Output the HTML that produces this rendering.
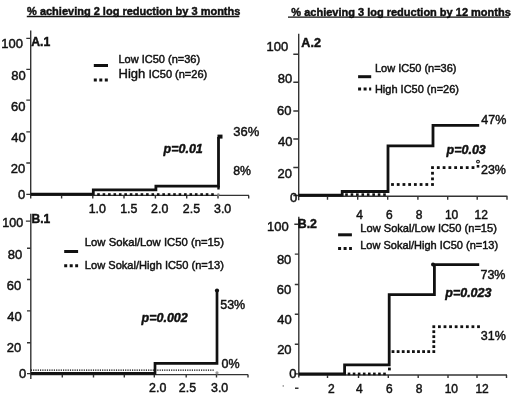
<!DOCTYPE html>
<html><head><meta charset="utf-8"><style>
html,body{margin:0;padding:0;background:#fff;}
svg{display:block;will-change:transform;filter:blur(0.3px);}
text{font-family:"Liberation Sans", sans-serif; fill:#111; stroke:#111; stroke-width:0.45px;}
</style></head><body>
<svg width="520" height="399" viewBox="0 0 520 399">
<rect width="520" height="399" fill="#fff"/>
<path d="M26.8,16.5 H239.3" stroke="#111" stroke-width="1.3" fill="none"/>
<path d="M288,17.1 H509" stroke="#111" stroke-width="1.3" fill="none"/>
<path d="M30.7,30.4 V198.5" stroke="#333" stroke-width="1.4" fill="none"/>
<path d="M26.3,38.4 H30.7 M26.3,69.4 H30.7 M26.3,100.1 H30.7 M26.3,131.9 H30.7 M26.3,163.0 H30.7 M26.3,194.4 H30.7" stroke="#333" stroke-width="1.4" fill="none"/>
<path d="M30.7,195.4 H249" stroke="#333" stroke-width="1.4" fill="none"/>
<path d="M61.6,195.4 V198.6 M92.8,195.4 V198.6 M124.0,195.4 V198.6 M155.4,195.4 V198.6 M186.7,195.4 V198.6 M218.0,195.4 V198.6 M248.7,195.4 V198.6" stroke="#333" stroke-width="1.4" fill="none"/>
<path d="M30.7,194.1 H93.3 V189.8 H155.9 V186.1 H218.5 V137" stroke="#111" stroke-width="2.8" fill="none"/>
<path d="M218.5,186 V189.5" stroke="#111" stroke-width="2.4" fill="none"/>
<rect x="217.5" y="134.6" width="5" height="4" fill="#111"/>
<rect x="97.20" y="193.20" width="2.6" height="2.6" fill="#111"/><rect x="102.63" y="193.20" width="2.6" height="2.6" fill="#111"/><rect x="108.06" y="193.20" width="2.6" height="2.6" fill="#111"/><rect x="113.49" y="193.20" width="2.6" height="2.6" fill="#111"/><rect x="118.91" y="193.20" width="2.6" height="2.6" fill="#111"/><rect x="124.34" y="193.20" width="2.6" height="2.6" fill="#111"/><rect x="129.77" y="193.20" width="2.6" height="2.6" fill="#111"/><rect x="135.20" y="193.20" width="2.6" height="2.6" fill="#111"/><rect x="140.63" y="193.20" width="2.6" height="2.6" fill="#111"/><rect x="146.06" y="193.20" width="2.6" height="2.6" fill="#111"/><rect x="151.49" y="193.20" width="2.6" height="2.6" fill="#111"/><rect x="156.91" y="193.20" width="2.6" height="2.6" fill="#111"/><rect x="162.34" y="193.20" width="2.6" height="2.6" fill="#111"/><rect x="167.77" y="193.20" width="2.6" height="2.6" fill="#111"/><rect x="173.20" y="193.20" width="2.6" height="2.6" fill="#111"/><rect x="178.63" y="193.20" width="2.6" height="2.6" fill="#111"/><rect x="184.06" y="193.20" width="2.6" height="2.6" fill="#111"/><rect x="189.49" y="193.20" width="2.6" height="2.6" fill="#111"/><rect x="194.91" y="193.20" width="2.6" height="2.6" fill="#111"/><rect x="200.34" y="193.20" width="2.6" height="2.6" fill="#111"/><rect x="205.77" y="193.20" width="2.6" height="2.6" fill="#111"/><rect x="211.20" y="193.20" width="2.6" height="2.6" fill="#111"/>
<circle cx="218.3" cy="194.6" r="1.3" fill="#888"/>
<path d="M93.8,65.5 H108" stroke="#111" stroke-width="3" fill="none"/>
<path d="M93.8,80 H108" stroke="#111" stroke-width="3" fill="none" stroke-dasharray="3 2.5"/>
<path d="M30.8,213.8 V379" stroke="#333" stroke-width="1.4" fill="none"/>
<path d="M25.9,221.1 H30.8 M27,248.3 H30.8 M27,279.5 H30.8 M27,310.9 H30.8 M27,342.8 H30.8 M27,373.6 H30.8" stroke="#333" stroke-width="1.4" fill="none"/>
<path d="M30.8,374.6 H248" stroke="#333" stroke-width="1.4" fill="none"/>
<path d="M62.3,374.6 V377.6 M93.5,374.6 V377.6 M124.3,374.6 V377.6 M154.3,374.6 V377.6 M186.2,374.6 V377.6 M216.5,374.6 V377.6 M248.0,374.6 V377.6" stroke="#333" stroke-width="1.4" fill="none"/>
<path d="M30.8,370.2 H214" stroke="#000" stroke-width="1.2" fill="none" stroke-dasharray="1.2 1.1"/>
<path d="M30.8,373.4 H155 V363.3 H217 V291" stroke="#111" stroke-width="2.7" fill="none"/>
<circle cx="217" cy="290.5" r="2.1" fill="#111"/>
<circle cx="217" cy="372.8" r="1.6" fill="#999"/>
<path d="M64.2,251.5 H78.1" stroke="#111" stroke-width="3" fill="none"/>
<path d="M64.2,265.8 H78.1" stroke="#111" stroke-width="3" fill="none" stroke-dasharray="3 2.5"/>
<path d="M298.7,33.8 V200.2" stroke="#333" stroke-width="1.4" fill="none"/>
<path d="M293.3,54.3 H298.5 M293.3,82.3 H298.5 M293.3,111.0 H298.5 M293.3,139.0 H298.5 M293.3,167.5 H298.5 M293.3,195.5 H298.5" stroke="#333" stroke-width="1.4" fill="none"/>
<path d="M298.5,196.2 H507.4" stroke="#333" stroke-width="1.4" fill="none"/>
<path d="M327.5,196.2 V199.7 M357.7,196.2 V199.7 M387.7,196.2 V199.7 M417.9,196.2 V199.7 M447.7,196.2 V199.7 M477.2,196.2 V199.7 M507.0,196.2 V199.7" stroke="#333" stroke-width="1.4" fill="none"/>
<path d="M298.5,195.2 H342.2 V191.5 H388 V145.8 H433 V125.3 H479.2" stroke="#111" stroke-width="2.8" fill="none"/>
<rect x="345.20" y="193.30" width="2.6" height="2.6" fill="#111"/><rect x="350.63" y="193.30" width="2.6" height="2.6" fill="#111"/><rect x="356.06" y="193.30" width="2.6" height="2.6" fill="#111"/><rect x="361.49" y="193.30" width="2.6" height="2.6" fill="#111"/><rect x="366.91" y="193.30" width="2.6" height="2.6" fill="#111"/><rect x="372.34" y="193.30" width="2.6" height="2.6" fill="#111"/><rect x="377.77" y="193.30" width="2.6" height="2.6" fill="#111"/><rect x="383.20" y="193.30" width="2.6" height="2.6" fill="#111"/>
<rect x="391.10" y="183.10" width="2.8" height="2.8" fill="#111"/><rect x="396.81" y="183.10" width="2.8" height="2.8" fill="#111"/><rect x="402.53" y="183.10" width="2.8" height="2.8" fill="#111"/><rect x="408.24" y="183.10" width="2.8" height="2.8" fill="#111"/><rect x="413.96" y="183.10" width="2.8" height="2.8" fill="#111"/><rect x="419.67" y="183.10" width="2.8" height="2.8" fill="#111"/><rect x="425.39" y="183.10" width="2.8" height="2.8" fill="#111"/><rect x="431.10" y="183.10" width="2.8" height="2.8" fill="#111"/><rect x="431.10" y="177.47" width="2.8" height="2.8" fill="#111"/><rect x="431.10" y="171.83" width="2.8" height="2.8" fill="#111"/><rect x="431.10" y="166.20" width="2.8" height="2.8" fill="#111"/><rect x="436.89" y="166.20" width="2.8" height="2.8" fill="#111"/><rect x="442.67" y="166.20" width="2.8" height="2.8" fill="#111"/><rect x="448.46" y="166.20" width="2.8" height="2.8" fill="#111"/><rect x="454.24" y="166.20" width="2.8" height="2.8" fill="#111"/><rect x="460.03" y="166.20" width="2.8" height="2.8" fill="#111"/><rect x="465.81" y="166.20" width="2.8" height="2.8" fill="#111"/><rect x="471.60" y="166.20" width="2.8" height="2.8" fill="#111"/>
<circle cx="478" cy="161.6" r="1.4" fill="none" stroke="#111" stroke-width="1.1"/>
<rect x="476.7" y="165" width="2.6" height="2.6" fill="#111"/>
<path d="M358.1,76.7 H371.2" stroke="#111" stroke-width="3" fill="none"/>
<path d="M358.1,89 H371.2" stroke="#111" stroke-width="3" fill="none" stroke-dasharray="3 2.5"/>
<path d="M298.8,216.7 V377.4" stroke="#333" stroke-width="1.4" fill="none"/>
<path d="M294.3,224.2 H298.8 M294.8,254.1 H298.8 M294.8,284.5 H298.8 M294.8,314.3 H298.8 M294.8,344.2 H298.8 M294.8,373.9 H298.8" stroke="#333" stroke-width="1.4" fill="none"/>
<path d="M298.8,375 H507" stroke="#333" stroke-width="1.4" fill="none"/>
<path d="M327.5,375 V378 M358.5,375 V378 M388.3,375 V378 M418.2,375 V378 M448.0,375 V378 M477.0,375 V378 M506.5,375 V378" stroke="#333" stroke-width="1.4" fill="none"/>
<path d="M298.8,373.9 H344.6 V364.8 H389.2 V294.6 H434.4 V264.6 H479.2" stroke="#111" stroke-width="2.8" fill="none"/>
<circle cx="433" cy="264.6" r="2" fill="#111"/>
<rect x="347.70" y="372.60" width="2.6" height="2.6" fill="#111"/><rect x="352.77" y="372.60" width="2.6" height="2.6" fill="#111"/><rect x="357.84" y="372.60" width="2.6" height="2.6" fill="#111"/><rect x="362.91" y="372.60" width="2.6" height="2.6" fill="#111"/><rect x="367.99" y="372.60" width="2.6" height="2.6" fill="#111"/><rect x="373.06" y="372.60" width="2.6" height="2.6" fill="#111"/><rect x="378.13" y="372.60" width="2.6" height="2.6" fill="#111"/><rect x="383.20" y="372.60" width="2.6" height="2.6" fill="#111"/>
<rect x="391.60" y="350.20" width="2.8" height="2.8" fill="#111"/><rect x="396.70" y="350.20" width="2.8" height="2.8" fill="#111"/><rect x="401.80" y="350.20" width="2.8" height="2.8" fill="#111"/><rect x="406.90" y="350.20" width="2.8" height="2.8" fill="#111"/><rect x="412.00" y="350.20" width="2.8" height="2.8" fill="#111"/><rect x="417.10" y="350.20" width="2.8" height="2.8" fill="#111"/><rect x="422.20" y="350.20" width="2.8" height="2.8" fill="#111"/><rect x="427.30" y="350.20" width="2.8" height="2.8" fill="#111"/><rect x="432.40" y="350.20" width="2.8" height="2.8" fill="#111"/><rect x="432.40" y="345.22" width="2.8" height="2.8" fill="#111"/><rect x="432.40" y="340.24" width="2.8" height="2.8" fill="#111"/><rect x="432.40" y="335.26" width="2.8" height="2.8" fill="#111"/><rect x="432.40" y="330.28" width="2.8" height="2.8" fill="#111"/><rect x="432.40" y="325.30" width="2.8" height="2.8" fill="#111"/><rect x="437.99" y="325.30" width="2.8" height="2.8" fill="#111"/><rect x="443.58" y="325.30" width="2.8" height="2.8" fill="#111"/><rect x="449.16" y="325.30" width="2.8" height="2.8" fill="#111"/><rect x="454.75" y="325.30" width="2.8" height="2.8" fill="#111"/><rect x="460.34" y="325.30" width="2.8" height="2.8" fill="#111"/><rect x="465.93" y="325.30" width="2.8" height="2.8" fill="#111"/><rect x="471.51" y="325.30" width="2.8" height="2.8" fill="#111"/><rect x="477.10" y="325.30" width="2.8" height="2.8" fill="#111"/>
<rect x="388" y="367.6" width="2.8" height="2.8" fill="#111"/>
<path d="M338.1,234.8 H351.9" stroke="#111" stroke-width="3" fill="none"/>
<path d="M338.1,248.5 H351.9" stroke="#111" stroke-width="3" fill="none" stroke-dasharray="3 2.5"/>
<rect x="282.6" y="385.3" width="1.3" height="1.3" fill="#777"/>
<path d="M295,388.2 H298.5" stroke="#111" stroke-width="1.3" fill="none"/>
<text x="27.05" y="14.50" font-size="11" font-weight="bold">% achieving 2 log reduction by 3 months</text>
<text x="291.35" y="15.60" font-size="11" font-weight="bold">% achieving 3 log reduction by 12 months</text>
<text x="31.25" y="45.90" font-size="12.2" font-weight="bold">A.1</text>
<text x="1.25" y="47.90" font-size="13">100</text>
<text x="11.30" y="79.60" font-size="13">80</text>
<text x="11.05" y="110.90" font-size="13">60</text>
<text x="11.25" y="142.30" font-size="13">40</text>
<text x="10.75" y="173.20" font-size="13">20</text>
<text x="18.00" y="198.60" font-size="13">0</text>
<text x="88.65" y="212.60" font-size="12.4">1.0</text>
<text x="120.15" y="212.60" font-size="12.4">1.5</text>
<text x="151.05" y="212.60" font-size="12.4">2.0</text>
<text x="182.85" y="212.60" font-size="12.4">2.5</text>
<text x="214.00" y="212.60" font-size="12.4">3.0</text>
<text x="118.50" y="62.60" font-size="11">Low IC50 (n=36)</text>
<text x="118.50" y="77.70" font-size="13">High</text>
<text x="148.80" y="77.70" font-size="11">IC50 (n=26)</text>
<text x="233.30" y="136.40" font-size="13">36%</text>
<text x="233.20" y="174.80" font-size="12.3">8%</text>
<text x="163.55" y="152.90" font-size="12.5" font-weight="bold" font-style="italic">p=0.01</text>
<text x="31.55" y="222.80" font-size="12" font-weight="bold">B.1</text>
<text x="2.35" y="227.00" font-size="12.5">100</text>
<text x="7.80" y="259.20" font-size="13">80</text>
<text x="6.75" y="289.50" font-size="13">60</text>
<text x="7.25" y="321.40" font-size="13">40</text>
<text x="6.75" y="352.00" font-size="13">20</text>
<text x="19.00" y="378.00" font-size="13">0</text>
<text x="149.05" y="391.50" font-size="12.4">2.0</text>
<text x="178.85" y="391.50" font-size="12.4">2.5</text>
<text x="211.00" y="391.50" font-size="12.4">3.0</text>
<text x="84.80" y="245.60" font-size="11.3">Low Sokal/Low IC50 (n=15)</text>
<text x="84.80" y="268.80" font-size="11.1">Low Sokal/High IC50 (n=13)</text>
<text x="220.20" y="308.70" font-size="12.5">53%</text>
<text x="221.50" y="368.20" font-size="12.5">0%</text>
<text x="141.55" y="321.70" font-size="12.5" font-weight="bold" font-style="italic">p=0.002</text>
<text x="301.35" y="47.40" font-size="12.6" font-weight="bold">A.2</text>
<text x="266.55" y="50.90" font-size="13">100</text>
<text x="277.80" y="82.90" font-size="13">80</text>
<text x="277.05" y="114.80" font-size="13">60</text>
<text x="277.95" y="146.40" font-size="13">40</text>
<text x="277.45" y="178.00" font-size="13">20</text>
<text x="290.10" y="202.20" font-size="13">0</text>
<text x="356.35" y="218.80" font-size="12">4</text>
<text x="386.10" y="218.80" font-size="12">6</text>
<text x="415.80" y="218.80" font-size="12">8</text>
<text x="444.90" y="218.80" font-size="12">10</text>
<text x="474.55" y="218.80" font-size="12">12</text>
<text x="374.90" y="72.30" font-size="11">Low IC50 (n=36)</text>
<text x="374.90" y="92.80" font-size="11">High IC50 (n=26)</text>
<text x="481.35" y="124.20" font-size="12.5">47%</text>
<text x="480.95" y="174.20" font-size="12.5">23%</text>
<text x="446.55" y="154.00" font-size="12.5" font-weight="bold" font-style="italic">p=0.03</text>
<text x="297.75" y="227.90" font-size="12.3" font-weight="bold">B.2</text>
<text x="267.05" y="230.90" font-size="13">100</text>
<text x="276.90" y="264.10" font-size="13">80</text>
<text x="276.75" y="294.20" font-size="13">60</text>
<text x="277.25" y="323.90" font-size="13">40</text>
<text x="277.15" y="354.10" font-size="13">20</text>
<text x="289.30" y="377.80" font-size="13">0</text>
<text x="328.00" y="392.50" font-size="12">2</text>
<text x="355.95" y="392.50" font-size="12">4</text>
<text x="386.10" y="392.50" font-size="12">6</text>
<text x="415.70" y="392.50" font-size="12">8</text>
<text x="444.70" y="392.50" font-size="12">10</text>
<text x="475.45" y="392.50" font-size="12">12</text>
<text x="360.30" y="231.80" font-size="11.1">Low Sokal/Low IC50 (n=15)</text>
<text x="360.20" y="249.20" font-size="11">Low Sokal/High IC50 (n=13)</text>
<text x="480.45" y="278.80" font-size="12.5">73%</text>
<text x="480.80" y="340.00" font-size="12.5">31%</text>
<text x="445.25" y="297.10" font-size="12.5" font-weight="bold" font-style="italic">p=0.023</text>
</svg>
</body></html>
